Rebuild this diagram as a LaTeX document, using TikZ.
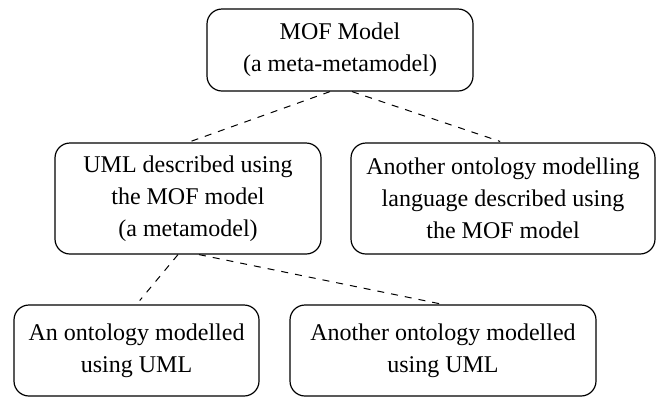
\documentclass[tikz,border=0pt]{standalone}
\usepackage{fontspec}
\setmainfont{Liberation Serif}
\usetikzlibrary{positioning}

\begin{document}
\begin{tikzpicture}[on grid, font=\fontsize{12}{16}\selectfont,
    level/.style={draw, rounded corners=7.5pt, line width=0.6pt, align=center, inner sep=0pt},
    link/.style={dashed, dash pattern=on 3.5pt off 3.5pt, line width=0.5pt}]
      \useasboundingbox (0,0) rectangle (331pt,-198.5pt);
      \node[level, minimum width=133pt, minimum height=41pt] (mof) at (170pt,-25pt) {MOF Model\\(a meta-metamodel)};
      \node[level, minimum width=133pt, minimum height=55.5pt, below left=74.25pt and 76pt of mof] (uml) {UML described using\\the MOF model\\(a metamodel)};
      \node[level, minimum width=152pt, minimum height=55.5pt, right=157.5pt of uml] (lang) {Another ontology modelling\\language described using\\the MOF model};
      \node[level, minimum width=122.5pt, minimum height=45.5pt, below left=76pt and 25.75pt of uml] (onto) {An ontology modelled\\using UML};
      \node[level, minimum width=153pt, minimum height=45.5pt, right=153.25pt of onto] (onto2) {Another ontology modelled\\using UML};
      \draw[link, shorten >=1.5pt] ([xshift=-5pt]mof.south) -- (uml.north);
      \draw[link, shorten >=1.5pt] ([xshift=6pt]mof.south) -- (lang.north);
      \draw[link, shorten >=2.5pt] ([xshift=-5pt]uml.south) -- (onto.north);
      \draw[link, shorten >=1pt] ([xshift=5.5pt]uml.south) -- (onto2.north);
\end{tikzpicture}
\end{document}
